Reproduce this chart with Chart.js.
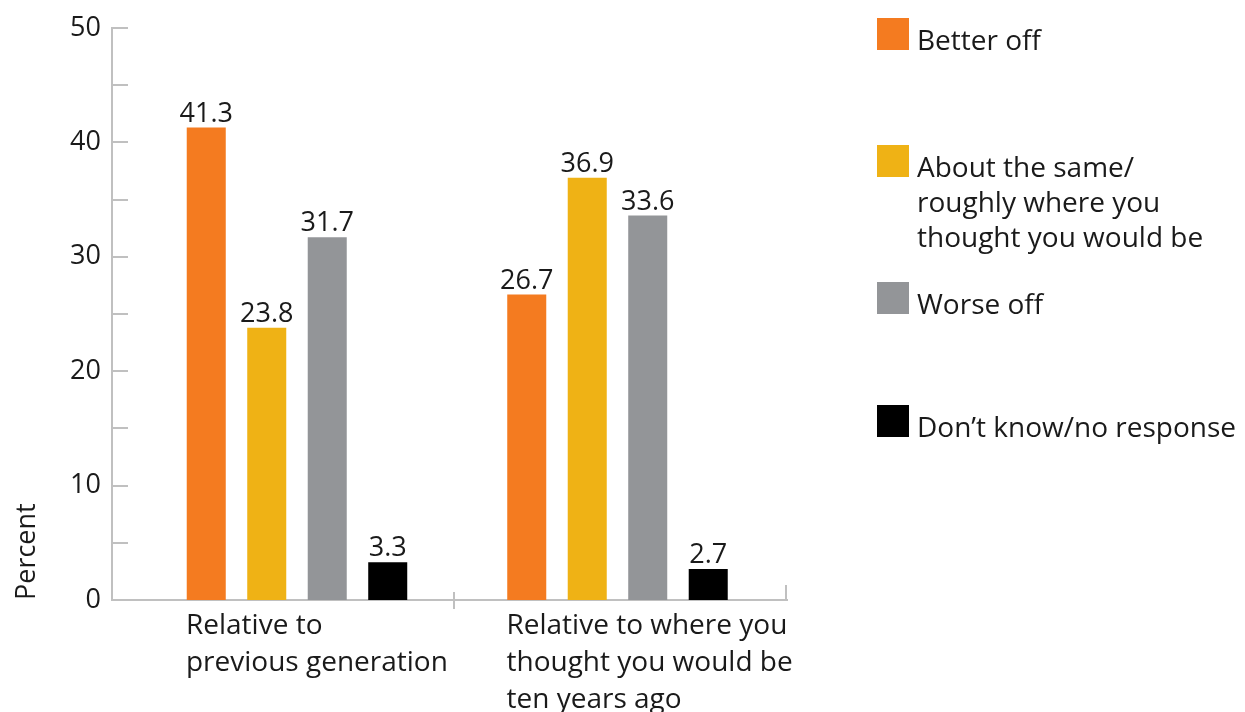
<!DOCTYPE html>
<html><head><meta charset="utf-8">
<script src="https://cdn.jsdelivr.net/npm/chart.js@4"></script>
<style>html,body{margin:0;padding:0;background:#fff}#wrap{position:relative;width:1245px;height:712px}</style>
</head><body><div id="wrap"><canvas id="c" width="1245" height="712"></canvas></div>
<script>
const categories = [['Relative to','previous generation'],['Relative to where you','thought you would be','ten years ago']];
const seriesNames = ['Better off','About the same/ roughly where you thought you would be','Worse off','Don\u2019t know/no response'];
const legendLines = [['Better off'],['About the same/','roughly where you','thought you would be'],['Worse off'],['Don\u2019t know/no response']];
const betterOff = [41.3, 26.7];
const aboutSame = [23.8, 36.9];
const worseOff = [31.7, 33.6];
const dontKnow = [3.3, 2.7];
const yTicks = [0,10,20,30,40,50];
const colors = ['#F47B20','#EFB215','#939598','#000000'];

const FONT = "'Open Sans', sans-serif";
const TXT = '#1a1a1a';
const AXIS = '#c0c0c0';

const toPoints = vals => vals.map((v, i) => ({ x: i, y: v }));

const decorations = {
  id: 'decorations',
  afterDatasetsDraw(chart) {
    const ctx = chart.ctx;
    const y = chart.scales.y, x = chart.scales.x;
    const area = chart.chartArea;
    ctx.save();
    ctx.strokeStyle = AXIS; ctx.lineWidth = 2;
    // inward y ticks every 5
    for (let v = y.min + 5; v <= y.max; v += 5) {
      const py = Math.round(y.getPixelForValue(v));
      ctx.beginPath(); ctx.moveTo(area.left, py); ctx.lineTo(area.left + 16, py); ctx.stroke();
    }
    // category divider and end tick
    const mid = Math.round(x.getPixelForValue(0.5)) - 3;
    ctx.beginPath(); ctx.moveTo(mid, area.bottom - 8); ctx.lineTo(mid, area.bottom + 9); ctx.stroke();
    ctx.beginPath(); ctx.moveTo(area.right - 1, area.bottom - 15); ctx.lineTo(area.right - 1, area.bottom + 1); ctx.stroke();
    // value labels
    ctx.fillStyle = TXT; ctx.font = "27px " + FONT; ctx.textAlign = 'center'; ctx.textBaseline = 'alphabetic';
    chart.data.datasets.forEach((ds, i) => {
      const meta = chart.getDatasetMeta(i);
      meta.data.forEach((bar, j) => {
        ctx.fillText(ds.data[j].y.toFixed(1), bar.x, bar.y - 6);
      });
    });
    // legend
    const tops = [18, 145, 282, 405];
    ctx.textAlign = 'left';
    ctx.font = "28px " + FONT;
    chart.data.datasets.forEach((ds, i) => {
      ctx.fillStyle = ds.backgroundColor;
      ctx.fillRect(877, tops[i], 32, 32);
      ctx.fillStyle = TXT;
      legendLines[i].forEach((line, k) => ctx.fillText(line, 917, tops[i] + 32 + k * 35));
    });
    ctx.restore();
  }
};

new Chart(document.getElementById('c'), {
  type: 'bar',
  data: {
    datasets: [
      { label: seriesNames[0], data: toPoints(betterOff), backgroundColor: colors[0] },
      { label: seriesNames[1], data: toPoints(aboutSame), backgroundColor: colors[1] },
      { label: seriesNames[2], data: toPoints(worseOff), backgroundColor: colors[2] },
      { label: seriesNames[3], data: toPoints(dontKnow), backgroundColor: colors[3] }
    ]
  },
  options: {
    responsive: false,
    animation: false,
    devicePixelRatio: 1,
    layout: { padding: { top: 28, right: 458, bottom: 0, left: 0 } },
    categoryPercentage: 0.755,
    barPercentage: 0.645,
    plugins: { legend: { display: false }, tooltip: { enabled: false } },
    scales: {
      x: {
        type: 'linear',
        offset: false,
        min: -0.5772, max: 1.5289,
        grid: { display: false, drawTicks: false, offset: false },
        border: { display: true, color: AXIS, width: 2 },
        afterBuildTicks(s) { s.ticks = categories.map((c, i) => ({ value: i })); },
        ticks: {
          callback: (v, i) => categories[i],
          font: { family: FONT, size: 28, lineHeight: 1.32 }, color: TXT,
          align: 'start', labelOffset: -111, padding: 8, maxRotation: 0, autoSkip: false
        },
        afterFit(s) { s.height = 112; }
      },
      y: {
        min: 0, max: 50,
        grid: { display: false, drawTicks: false },
        border: { display: true, color: AXIS, width: 2 },
        afterBuildTicks(s) { s.ticks = yTicks.map(v => ({ value: v })); },
        ticks: { font: { family: FONT, size: 27 }, color: TXT, padding: 11 },
        title: { display: true, text: 'Percent', align: 'start', font: { family: FONT, size: 27 }, color: TXT, padding: { top: 11, bottom: 0 } },
        afterFit(s) { s.width = 112; }
      }
    }
  },
  plugins: [decorations]
});
</script>
</body></html>
